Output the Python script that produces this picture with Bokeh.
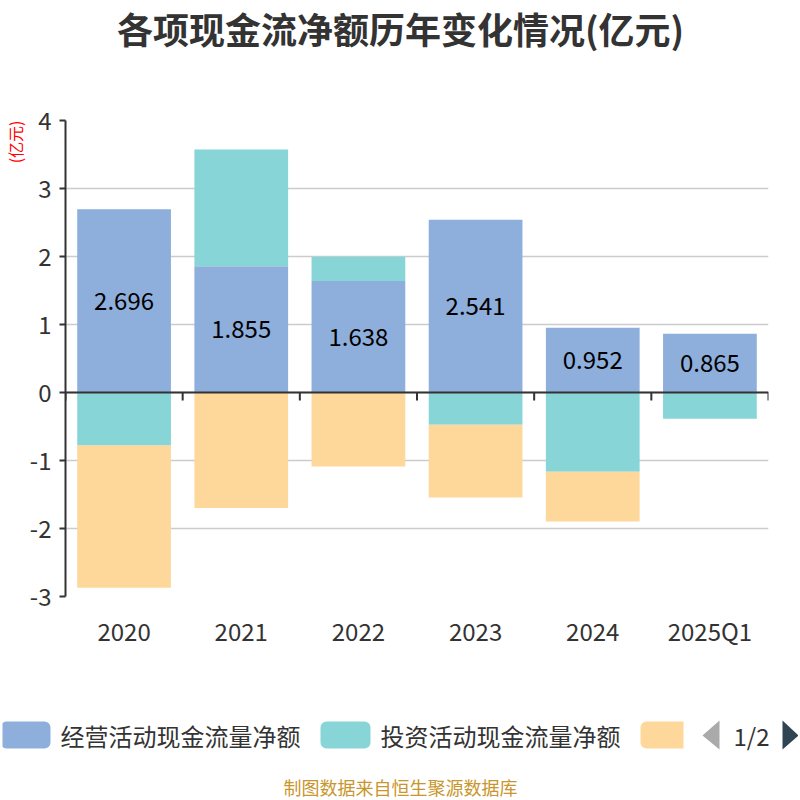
import math
from bokeh.plotting import figure
from bokeh.layouts import column, row
from bokeh.models import (Range1d, FixedTicker, ColumnDataSource, Label, Span, Title,
                          BoxAnnotation, PolyAnnotation)
from bokeh.core.properties import value
from bokeh.embed import file_html
from bokeh.resources import INLINE

categories = ["2020", "2021", "2022", "2023", "2024", "2025Q1"]
operating = [2.696, 1.855, 1.638, 2.541, 0.952, 0.865]
investing = [-0.78, 1.72, 0.36, -0.475, -1.166, -0.387]
financing = [-2.09, -1.70, -1.09, -1.07, -0.73, 0.0]
series_names = ["经营活动现金流量净额", "投资活动现金流量净额", "筹资活动现金流量净额"]
colors = ["#8eaedb", "#88d5d8", "#fdd89a"]
y_ticks = [-3, -2, -1, 0, 1, 2, 3, 4]

FONT = "Noto Sans CJK SC"
TXT = "#333333"
W = 800
OFF = 2  # header/footer are shifted so their frames are not aligned with the chart's

n = len(categories)
xs = [i + 0.5 for i in range(n)]
bounds = list(range(n + 1))

# stacking: positives stack up from 0, negatives stack down from 0
pos_base = [0.0] * n
neg_base = [0.0] * n
stacks = []
for vals in (operating, investing, financing):
    bottoms, tops = [], []
    for i, v in enumerate(vals):
        if v >= 0:
            bottoms.append(pos_base[i]); tops.append(pos_base[i] + v); pos_base[i] += v
        else:
            tops.append(neg_base[i]); bottoms.append(neg_base[i] + v); neg_base[i] += v
    stacks.append((bottoms, tops))


def blank(height):
    f = figure(width=W - 2 * OFF, height=height, x_range=Range1d(0, 1), y_range=Range1d(0, 1),
               x_axis_location=None, y_axis_location=None, output_backend="svg",
               toolbar_location=None, min_border=0, title=None,
               margin=(0, 0, 0, OFF))
    f.outline_line_color = None
    f.grid.grid_line_color = None
    return f


def sx(px):
    return px - OFF


# ---------- header (page y 0..100) ----------
HEAD = 100
head = blank(HEAD)
head.add_layout(Label(x=sx(400), y=HEAD - 27, x_units="screen", y_units="screen",
                      text="各项现金流净额历年变化情况(亿元)", text_font=FONT,
                      text_font_size="36px", text_font_style="bold", text_color=TXT,
                      text_align="center", text_baseline="middle"))

# ---------- main chart (page y 100..650, frame x 65..768, y 120..600) ----------
p = figure(x_range=Range1d(0, n), y_range=Range1d(-3, 4), title=None,
           width=W, height=550, output_backend="svg", toolbar_location=None,
           min_border_left=65, min_border_right=32, min_border_top=20, min_border_bottom=50)
p.outline_line_color = None
p.xgrid.grid_line_color = None
p.ygrid.grid_line_color = "#cccccc"
p.ygrid.grid_line_width = 1.5
p.ygrid.ticker = FixedTicker(ticks=y_ticks)

renderers = []
for (bottoms, tops), c in zip(stacks, colors):
    src = ColumnDataSource(dict(x=xs, bottom=bottoms, top=tops))
    r = p.vbar(x="x", bottom="bottom", top="top", width=0.8, source=src,
               fill_color=c, line_color=None)
    renderers.append(r)

lab_src = ColumnDataSource(dict(x=xs, y=[v / 2 for v in operating],
                                t=["%.3f" % v for v in operating]))
p.text(x="x", y="y", text="t", source=lab_src, text_align="center", text_baseline="middle",
       text_font=value(FONT), text_font_size="24px", text_color="#000000")

# zero line with boundary ticks
p.add_layout(Span(location=0, dimension="width", line_color=TXT, line_width=2))
p.ray(x=bounds, y=[0] * len(bounds), length=8, length_units="screen",
      angle=-math.pi / 2, line_color=TXT, line_width=2)

# y axis
yax = p.yaxis[0]
yax.ticker = FixedTicker(ticks=y_ticks)
yax.major_label_overrides = {t: str(t) for t in y_ticks}
yax.axis_line_color = TXT
yax.axis_line_width = 2
yax.major_tick_line_color = TXT
yax.major_tick_line_width = 2
yax.major_tick_out = 6
yax.major_tick_in = 0
yax.minor_tick_line_color = None
yax.major_label_text_font = FONT
yax.major_label_text_font_size = "24px"
yax.major_label_text_color = TXT
yax.major_label_standoff = 8

# x axis: category labels at the bottom
xax = p.xaxis[0]
xax.ticker = FixedTicker(ticks=xs)
xax.major_label_overrides = {x: c for x, c in zip(xs, categories)}
xax.axis_line_color = None
xax.major_tick_line_color = None
xax.minor_tick_line_color = None
xax.major_label_text_font = FONT
xax.major_label_text_font_size = "24px"
xax.major_label_text_color = TXT
xax.major_label_standoff = 10

# y unit label
p.add_layout(Title(text="(亿元)", text_color="#ff0000", text_font=FONT, text_font_size="16px",
                   text_font_style="normal", align="right", standoff=0), "left")

# ---------- legend + source note (page y 650..800) ----------
FOOT = 150
foot = blank(FOOT)


def sy(py):
    return 800 - py


sw_left = [0, 320, 640]
sw_right = [50, 370, 683]
radii = [6, 6, (6, 0, 0, 6)]
for l, r, c, rad in zip(sw_left, sw_right, colors, radii):
    foot.add_layout(BoxAnnotation(left=sx(l), right=sx(r), top=sy(721), bottom=sy(748),
                                  left_units="screen", right_units="screen",
                                  top_units="screen", bottom_units="screen",
                                  fill_color=c, fill_alpha=1, line_color=None,
                                  border_radius=rad))
for lx, name in zip([60, 380], series_names[:2]):
    foot.add_layout(Label(x=sx(lx), y=sy(735), x_units="screen", y_units="screen", text=name,
                          text_font=FONT, text_font_size="24px", text_color=TXT,
                          text_baseline="middle"))
foot.add_layout(Label(x=sx(751), y=sy(735), x_units="screen", y_units="screen", text="1/2",
                      text_font=FONT, text_font_size="24px", text_color=TXT,
                      text_align="center", text_baseline="middle"))
foot.add_layout(PolyAnnotation(xs=[sx(719), sx(702), sx(719)], ys=[sy(720), sy(735), sy(749)],
                               xs_units="screen", ys_units="screen",
                               fill_color="#aaaaaa", fill_alpha=1, line_color=None))
foot.add_layout(PolyAnnotation(xs=[sx(782), sx(798), sx(782)], ys=[sy(720), sy(735), sy(749)],
                               xs_units="screen", ys_units="screen",
                               fill_color="#2f4554", fill_alpha=1, line_color=None))
foot.add_layout(Label(x=sx(400), y=sy(786), x_units="screen", y_units="screen",
                      text="制图数据来自恒生聚源数据库", text_font=FONT, text_font_size="18px",
                      text_color="#c8962c", text_align="center", text_baseline="middle"))

layout = column(row(head), p, row(foot), spacing=0)
open("out.html", "w").write(file_html(layout, INLINE))
